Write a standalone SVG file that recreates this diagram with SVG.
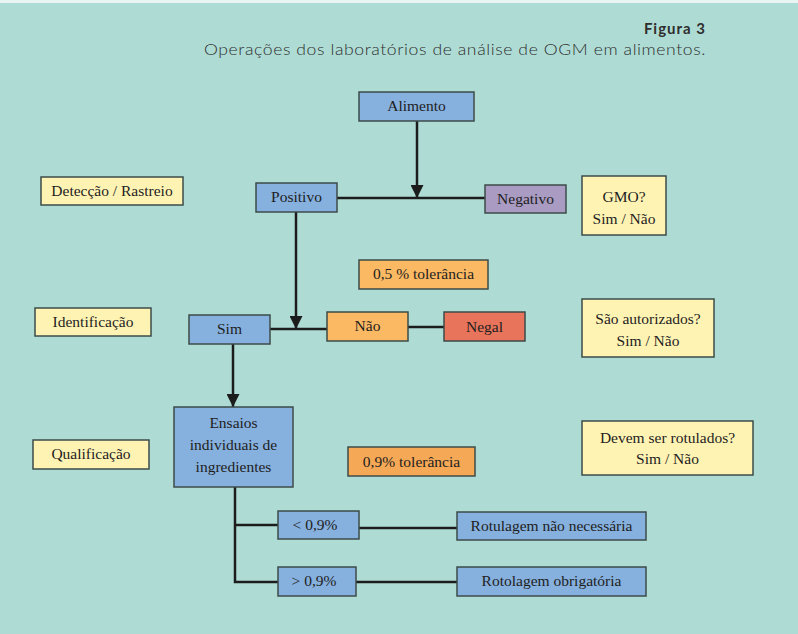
<svg xmlns="http://www.w3.org/2000/svg" width="798" height="634" viewBox="0 0 798 634">
<defs>
<style>
.box{stroke:#3d4b48;stroke-width:1.5}
.blue{fill:#86b0dd}
.yel{fill:#fff3b4}
.org{fill:#fbb963}
.org2{fill:#f5a957}
.pur{fill:#a99bc2}
.red{fill:#e8745b}
.t{font-family:"Liberation Serif","Times New Roman",serif;font-size:15.5px;fill:#1e1e1e;text-anchor:middle}
.ln{stroke:#1c1c1c;stroke-width:2.5;fill:none}
.ttl{font-family:"Lato","Open Sans",sans-serif;fill:#2e2e2e}
</style>
<marker id="arr" viewBox="0 0 10 10" refX="10" refY="5" markerWidth="5.2" markerHeight="5.2" markerUnits="strokeWidth" orient="auto">
<path d="M0,0 L10,5 L0,10 z" fill="#1c1c1c"/>
</marker>
</defs>
<rect x="0" y="0" width="798" height="634" fill="#aedcd5"/>
<rect x="0" y="0" width="798" height="3" fill="#e8f5f3"/>
<text class="ttl" x="706" y="34" font-size="15" font-weight="bold" text-anchor="end" letter-spacing="1">Figura 3</text>
<text class="ttl" x="204" y="55" font-size="15" font-weight="300" textLength="502" lengthAdjust="spacingAndGlyphs" letter-spacing="0.5">Operações dos laboratórios de análise de OGM em alimentos.</text>
<g id="connectors">
<line class="ln" x1="417" y1="121" x2="417" y2="198" marker-end="url(#arr)"/>
<line class="ln" x1="337" y1="198" x2="485" y2="198"/>
<line class="ln" x1="296" y1="212" x2="296" y2="329" marker-end="url(#arr)"/>
<line class="ln" x1="270" y1="329" x2="327" y2="329"/>
<line class="ln" x1="408" y1="327" x2="444" y2="327"/>
<line class="ln" x1="233" y1="344" x2="233" y2="407" marker-end="url(#arr)"/>
<polyline class="ln" points="235,487 235,582 278,582"/>
<line class="ln" x1="235" y1="525" x2="278" y2="525"/>
<line class="ln" x1="359" y1="528" x2="457" y2="528"/>
<line class="ln" x1="356" y1="582" x2="457" y2="582"/>
</g>
<g id="alimento"><rect class="box blue" x="359" y="92" width="115" height="29"/><text class="t" x="416.5" y="111">Alimento</text></g>
<g id="positivo"><rect class="box blue" x="256" y="183" width="81" height="29"/><text class="t" x="296.5" y="202">Positivo</text></g>
<g id="negativo"><rect class="box pur" x="485" y="185" width="81" height="28"/><text class="t" x="525.5" y="204">Negativo</text></g>
<g id="gmo"><rect class="box yel" x="582" y="176" width="84" height="59"/><text class="t" x="624" y="202">GMO?</text><text class="t" x="624" y="224">Sim / Não</text></g>
<g id="deteccao"><rect class="box yel" x="41" y="177" width="142" height="28"/><text class="t" x="112" y="196">Detecção / Rastreio</text></g>
<g id="tol05"><rect class="box org" x="359" y="260" width="129" height="29"/><text class="t" x="423.5" y="279">0,5 % tolerância</text></g>
<g id="identificacao"><rect class="box yel" x="35" y="308" width="116" height="28"/><text class="t" x="93" y="327">Identificação</text></g>
<g id="sim"><rect class="box blue" x="189" y="315" width="81" height="29"/><text class="t" x="229.5" y="334">Sim</text></g>
<g id="nao"><rect class="box org" x="327" y="312" width="81" height="29"/><text class="t" x="367.5" y="331">Não</text></g>
<g id="negal"><rect class="box red" x="444" y="312" width="81" height="29"/><text class="t" x="484.5" y="332">Negal</text></g>
<g id="autorizados"><rect class="box yel" x="582" y="299" width="132" height="58"/><text class="t" x="648" y="324">São autorizados?</text><text class="t" x="648" y="346">Sim / Não</text></g>
<g id="ensaios"><rect class="box blue" x="174" y="407" width="119" height="80"/><text class="t" x="233.5" y="428">Ensaios</text><text class="t" x="233.5" y="450">individuais de</text><text class="t" x="233.5" y="472">ingredientes</text></g>
<g id="tol09"><rect class="box org2" x="348" y="447" width="127" height="29"/><text class="t" x="411.5" y="467">0,9% tolerância</text></g>
<g id="qualificacao"><rect class="box yel" x="33" y="440" width="116" height="29"/><text class="t" x="91" y="459">Qualificação</text></g>
<g id="rotulados"><rect class="box yel" x="582" y="421" width="171" height="54"/><text class="t" x="667.5" y="443">Devem ser rotulados?</text><text class="t" x="667.5" y="464">Sim / Não</text></g>
<g id="menor"><rect class="box blue" x="278" y="511" width="81" height="28"/><text class="t" x="315" y="530">&lt; 0,9%</text></g>
<g id="rotnao"><rect class="box blue" x="457" y="512" width="189" height="28"/><text class="t" x="551.5" y="531">Rotulagem não necessária</text></g>
<g id="maior"><rect class="box blue" x="278" y="567" width="78" height="29"/><text class="t" x="314" y="586">&gt; 0,9%</text></g>
<g id="rotobr"><rect class="box blue" x="457" y="567" width="189" height="29"/><text class="t" x="551.5" y="586">Rotolagem obrigatória</text></g>
</svg>
